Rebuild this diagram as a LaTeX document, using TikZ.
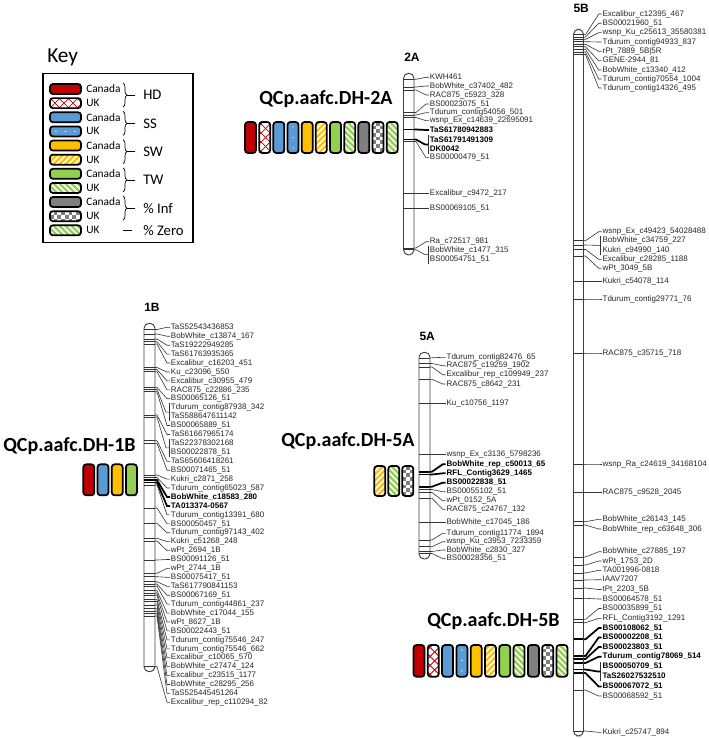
\documentclass[tikz,border=0pt]{standalone}
\usepackage{fontspec}
\setmainfont{Liberation Sans}
\newfontfamily\calibri{Carlito}
\usetikzlibrary{calc,decorations.pathreplacing}

\definecolor{hdred}{HTML}{C00000}
\definecolor{ssblue}{HTML}{5B9BD5}
\definecolor{swor}{HTML}{FFC000}
\definecolor{twgr}{HTML}{92D050}
\definecolor{ingrey}{HTML}{7F7F7F}

\begin{document}
\begin{tikzpicture}[x=0.75pt,y=-0.75pt,
  labn/.style={anchor=west,inner sep=0.5pt,text=black!85,font=\fontsize{6}{7}\selectfont,text height=4.4pt,text depth=1.1pt},
  labb/.style={labn,text=black,font=\fontsize{6}{7}\selectfont\bfseries},
  bandn/.style={line width=0.45pt,black!80},
  bandb/.style={line width=1.3pt,black},
  conn/.style={line width=0.45pt,black!80},
  conb/.style={line width=1.3pt,black},
  chrom/.style={line width=0.7pt,black!75,rounded corners=3.8pt},
  chrlab/.style={anchor=base west,inner sep=0pt,font=\fontsize{9}{10}\selectfont\bfseries},
  qtl/.style={anchor=base west,inner sep=0pt,font=\calibri\fontsize{15}{17}\selectfont\bfseries},
  barline/.style={line width=1.3pt,rounded corners=2.2pt},
  keytxt/.style={anchor=west,inner sep=0pt,font=\calibri\fontsize{8.5}{9}\selectfont},
  keytrait/.style={anchor=west,inner sep=0pt,font=\calibri\fontsize{11}{12}\selectfont}]
  \useasboundingbox (0,0) rectangle (709,738);

  % fills of the trait bars
  \def\pHDc#1#2{\fill[hdred] (\tx,\ty) rectangle ++(#1,#2);}
  \def\pSSc#1#2{\fill[ssblue] (\tx,\ty) rectangle ++(#1,#2);}
  \def\pSWc#1#2{\fill[swor] (\tx,\ty) rectangle ++(#1,#2);}
  \def\pTWc#1#2{\fill[twgr] (\tx,\ty) rectangle ++(#1,#2);}
  \def\pINc#1#2{\fill[ingrey] (\tx,\ty) rectangle ++(#1,#2);}
  \def\pHDu#1#2{\foreach \k in {-45,-36,...,45} {\draw[hdred,line width=0.6pt] ({\tx+\k},\ty) -- ++(45,45) ({\tx+\k},{\ty+#2}) -- ++(45,-45);}}
  \def\pSSu#1#2{\pSSc{#1}{#2}\pgfmathtruncatemacro\hor{#1>#2}%
    \ifnum\hor=1 \foreach \k in {6,15.5,25} {\fill[white] ({\tx+\k},{\ty+#2/2}) circle (0.55pt);}%
    \else \foreach \k in {5,15.5,26} {\fill[white] ({\tx+#1/2},{\ty+\k}) circle (0.55pt);}\fi}
  \def\pSWu#1#2{\foreach \k in {-45,-39,...,45} {\draw[swor,line width=1.7pt] ({\tx+\k},{\ty+#2}) -- ++(45,-45);}}
  \def\pTWu#1#2{\foreach \k in {-45,-39,...,45} {\draw[twgr,line width=1.7pt] ({\tx+\k},\ty) -- ++(45,45);}}
  \def\pZEu{\pTWu}
  \def\pINu#1#2{\foreach \ci in {0,...,9} {\foreach \cj in {0,...,9} {%
    \pgfmathtruncatemacro\odd{mod(\ci+\cj,2)}\ifnum\odd=1 \fill[ingrey] ({\tx+\ci*3.7},{\ty+\cj*3.7}) rectangle ++(3.7,3.7);\fi}}}
  \def\tbar#1#2#3#4#5{% fill, x, y, width, height
    \pgfmathsetmacro\tx{#2}\pgfmathsetmacro\ty{#3}
    \begin{scope}
      \clip[rounded corners=2.2pt] (\tx,\ty) rectangle ++(#4,#5);
      \fill[white] (\tx,\ty) rectangle ++(#4,#5);
      \csname p#1\endcsname{#4}{#5}
    \end{scope}
    \draw[barline] (\tx,\ty) rectangle ++(#4,#5);}
  % one marker: id, name, label y, band y, n/b
  \def\mk#1#2#3#4#5{%
    \draw[band#5] (\cL,#4) -- (\cR,#4);
    \coordinate (b#1) at (\cR,#4);
    \node[lab#5] (l#1) at (\lx,#3) {#2};
    \draw[con#5] (b#1) -- ++(2,0) -- ($(l#1.west)+(-3,0)$) -- (l#1.west);}
  % two markers at one position
  \def\mkpair#1#2#3#4#5#6#7{%
    \draw[band#7] (\cL,#6) -- (\cR,#6);
    \coordinate (b#1) at (\cR,#6);
    \node[lab#7] (l#1a) at (\lx,#4) {#2};
    \node[lab#7] (l#1b) at (\lx,#5) {#3};
    \draw[conn] ([xshift=-0.8pt]l#1a.north west) -- ([xshift=-0.8pt]l#1b.south west);
    \coordinate (k#1) at ($(l#1a.west)!0.5!(l#1b.west)+(-1,0)$);
    \draw[con#7] (b#1) -- ++(2,0) -- ($(k#1)+(-3,0)$) -- (k#1);}

  % key
  \node[anchor=base west,inner sep=0pt,font=\calibri\fontsize{16}{18}\selectfont] (key) at (47,63) {Key};
  \draw[line width=1.1pt] (43,73.3) rectangle (193,242.7);
  \foreach \p/\t [count=\i from 0] in {HDc/Canada,HDu/UK,SSc/Canada,SSu/UK,SWc/Canada,SWu/UK,TWc/Canada,TWu/UK,INc/Canada,INu/UK,ZEu/UK} { %for each key row
    \tbar{\p}{50}{84+14.13*\i}{31}{10}
    \node[keytxt] (kr\i) at (86,{89+14.13*\i}) {\t};
  }
  \foreach \t [count=\i from 0] in {HD,SS,SW,TW,\% Inf} { %for each trait brace
    \pgfmathsetmacro\yc{95.1+28.26*\i}
    \node[keytrait] (kt\i) at (143,\yc) {\t};
    \draw[line width=0.5pt,decorate,decoration={brace,amplitude=3pt}] (123,{\yc-12}) -- (123,{\yc+12});
    \draw[line width=0.5pt] ($(kt\i.west)+(-16,0)$) -- ($(kt\i.west)+(-8,0)$);
  }
  \node[keytrait] (kt5) at (143,230.3) {\% Zero};
  \draw[line width=0.6pt] ($(kt5.west)+(-20,0)$) -- ($(kt5.west)+(-11,0)$);

  % QTL titles and bars
  \node[qtl] (q2A) at (259,105) {QCp.aafc.DH-2A};
  \foreach \p [count=\i from 0] in {HDc,HDu,SSc,SSu,SWc,SWu,TWc,TWu,INc,INu,ZEu}
    {\tbar{\p}{245+14.17*\i}{122}{11}{31}}
  \node[qtl] (q1B) at (3,451.7) {QCp.aafc.DH-1B};
  \foreach \p [count=\i from 0] in {HDc,SSc,SWc,TWc}
    {\tbar{\p}{83.3+14.2*\i}{464.3}{11}{31}}
  \node[qtl] (q5A) at (281,446) {QCp.aafc.DH-5A};
  \foreach \p [count=\i from 0] in {SWu,TWu,INu}
    {\tbar{\p}{374.3+14*\i}{466}{11}{30}}
  \node[qtl] (q5B) at (427,626.7) {QCp.aafc.DH-5B};
  \foreach \p [count=\i from 0] in {HDc,HDu,SSc,SSu,SWc,SWu,TWc,TWu,INc,INu,ZEu}
    {\tbar{\p}{413.5+14.3*\i}{645}{11}{31.7}}

  % chromosome 2A
  \def\cL{403.5}\def\cR{414}\def\lx{429}
  \node[chrlab] (c2A) at (404,61.7) {2A};
  \foreach \t/\ly/\by/\s [count=\i] in {KWH461/77.3/79.3/n, BobWhite\_c37402\_482/86/87/n,
    RAC875\_c5923\_328/95/90/n, BS00023075\_51/104/112.5/n, Tdurum\_contig54056\_501/112.7/115/n,
    wsnp\_Ex\_c14639\_22695091/120.7/117.5/n, TaS61780942883/130/129.5/b, BS00000479\_51/157.7/141.5/n,
    Excalibur\_c9472\_217/193.3/193.3/n, BS00069105\_51/208.3/208.3/n, Ra\_c72517\_981/241.7/248/n} %for each marker
    {\mk{2A-\i}{\t}{\ly}{\by}{\s}}
  \mkpair{2A-p1}{TaS61791491309}{DK0042}{140}{149}{139.5}{b}
  \mkpair{2A-p2}{BobWhite\_c1477\_315}{BS00054751\_51}{250.3}{259}{249.7}{n}
  \draw[chrom] (\cL,73.3) rectangle (\cR,255);

  % chromosome 1B
  \def\cL{144}\def\cR{155}\def\lx{170}
  \node[chrlab] (c1B) at (144,311) {1B};
  \foreach \t/\ly/\by/\s [count=\i] in {TaS52543436853/327.3/329.5/n, BobWhite\_c13874\_167/336.2/334/n,
    TaS19222949285/345.2/339/n, TaS61763935365/354.1/341.7/n, Excalibur\_c16203\_451/363/344/n,
    Ku\_c23096\_550/372/367.5/n, Excalibur\_c30955\_479/380.9/369.5/n, RAC875\_c22886\_235/389.8/371.7/n,
    BS00065126\_51/398.7/387.3/n, BS00065889\_51/425.5/391.7/n, TaS61667965174/434.5/415/n,
    TaS65606418261/461.3/440.7/n, BS00071465\_51/470.2/443.3/n, Kukri\_c2871\_258/479.1/475/n,
    Tdurum\_contig65023\_587/488/477.5/n, BobWhite\_c18583\_280/497/480/b, TA013374-0567/505.9/482.5/b,
    Tdurum\_contig13391\_680/514.8/485/n, BS00050457\_51/523.8/508/n, Tdurum\_contig97143\_402/532.7/523.3/n,
    Kukri\_c51268\_248/541.6/538.3/n, wPt\_2694\_1B/550.6/541/n, BS00091126\_51/559.5/560/n,
    wPt\_2744\_1B/568.4/573.3/n, BS00075417\_51/577.3/576.7/n, TaS617790841153/586.3/581.7/n,
    BS00067169\_51/595.2/584/n, Tdurum\_contig44861\_237/604.1/586/n, BobWhite\_c17044\_155/613.1/590.7/n,
    wPt\_8627\_1B/622/593/n, BS00022443\_51/630.9/595/n, Tdurum\_contig75546\_247/639.9/599.3/n,
    Tdurum\_contig75546\_662/648.8/601.5/n, Excalibur\_c10065\_570/657.7/605/n, BobWhite\_c27474\_124/666.6/608.3/n,
    Excalibur\_c23515\_1177/675.6/611/n, BobWhite\_c28295\_256/684.5/613.3/n, TaS525445451264/693.4/616/n,
    Excalibur\_rep\_c110294\_82/702.4/666.7/n} %for each marker
    {\mk{1B-\i}{\t}{\ly}{\by}{\s}}
  \mkpair{1B-p1}{Tdurum\_contig87938\_342}{TaS588647611142}{407.7}{416.6}{389.5}{n}
  \mkpair{1B-p2}{TaS22378302168}{BS00022878\_51}{443.4}{452.3}{417}{n}
  \draw[chrom] (\cL,323.3) rectangle (\cR,671.7);

  % chromosome 5A
  \def\cL{419}\def\cR{430}\def\lx{445.7}
  \node[chrlab] (c5A) at (419.3,340.7) {5A};
  \foreach \t/\ly/\by/\s [count=\i] in {Tdurum\_contig82476\_65/357.3/357.8/n, RAC875\_c19259\_1902/365.7/363.5/n,
    Excalibur\_rep\_c109949\_237/374.7/367/n, RAC875\_c8642\_231/384/379.3/n, Ku\_c10756\_1197/403.3/403.3/n,
    wsnp\_Ex\_c3136\_5798236/454.5/454.5/n, BobWhite\_rep\_c50013\_65/464.3/471.7/b, RFL\_Contig3629\_1465/473.3/474.5/b,
    BS00022838\_51/482.7/486.7/b, BS00055102\_51/491.7/489.5/n, wPt\_0152\_5A/500.7/492.5/n,
    RAC875\_c24767\_132/509.3/498.3/n, BobWhite\_c17045\_186/522.7/522.7/n, Tdurum\_contig11774\_1894/533.3/540/n,
    wsnp\_Ku\_c3953\_7233359/541.7/546.7/n, BobWhite\_c2830\_327/550/551.5/n, BS00028356\_51/558.7/553.5/n} %for each marker
    {\mk{5A-\i}{\t}{\ly}{\by}{\s}}
  \draw[chrom] (\cL,352.3) rectangle (\cR,559);

  % chromosome 5B
  \def\cL{573.5}\def\cR{583.5}\def\lx{601.7}
  \node[chrlab] (c5B) at (573.3,12.7) {5B};
  \foreach \t/\ly/\by/\s [count=\i] in {Excalibur\_c12395\_467/14/34.6/n, BS00021960\_51/23.3/37/n,
    wsnp\_Ku\_c25613\_35580381/32.7/39.3/n, Tdurum\_contig94933\_837/42/41.7/n, rPt\_7889\_5B|5R/51.3/44.3/n,
    GENE-2944\_81/60.7/46.8/n, BobWhite\_c13340\_412/70/49.3/n, Tdurum\_contig70554\_1004/79/52/n,
    Tdurum\_contig14326\_495/88/54.5/n, wsnp\_Ex\_c49423\_54028488/231.7/240.7/n, Excalibur\_c28285\_1188/259.3/249.5/n,
    wPt\_3049\_5B/268.3/256/n, Kukri\_c54078\_114/281.7/281.7/n, Tdurum\_contig29771\_76/299/299/n,
    RAC875\_c35715\_718/353/353/n, wsnp\_Ra\_c24619\_34168104/464/464/n, RAC875\_c9528\_2045/492.7/492.7/n,
    BobWhite\_c26143\_145/519.3/521.7/n, BobWhite\_rep\_c63648\_306/529/525/n, BobWhite\_c27885\_197/551.7/557/n,
    wPt\_1753\_2D/561/565/n, TA001996-0818/570.3/573/n, IAAV7207/579.7/580/n, tPt\_2203\_5B/589.5/588/n,
    BS00064578\_51/599/598.3/n, BS00035899\_51/608.5/619.3/n, RFL\_Contig3192\_1291/618.3/622.7/n,
    BS00108062\_51/628/639.3/b, BS00002208\_51/637.5/656/b, BS00023803\_51/647/659/b,
    Tdurum\_contig78069\_514/656.7/663/b, BS00067072\_51/686.5/673/b, BS00068592\_51/696/690/n,
    Kukri\_c25747\_894/732.3/731/n} %for each marker
    {\mk{5B-\i}{\t}{\ly}{\by}{\s}}
  \mkpair{5B-p1}{BobWhite\_c34759\_227}{Kukri\_c94990\_140}{240.7}{250}{245}{n}
  \mkpair{5B-p2}{BS00050709\_51}{TaS26027532510}{666.5}{676.5}{669.5}{b}
  \draw[chrom] (\cL,29.3) rectangle (\cR,736);
\end{tikzpicture}
\end{document}
